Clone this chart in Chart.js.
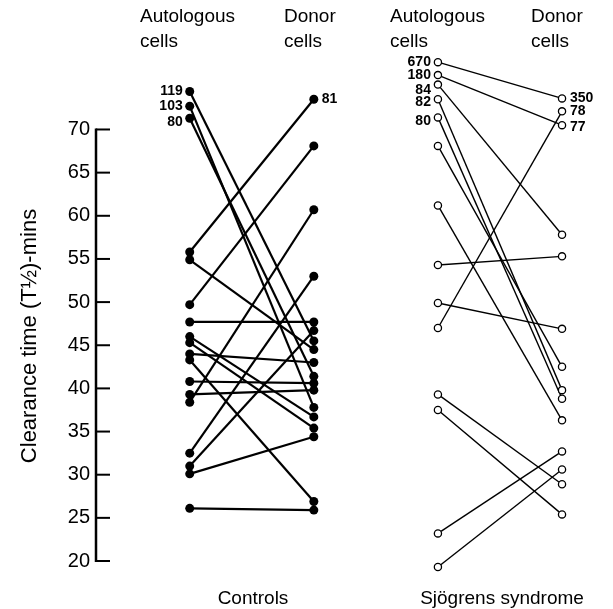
<!DOCTYPE html>
<html>
<head>
<meta charset="utf-8">
<script src="https://cdn.jsdelivr.net/npm/chart.js@4.4.1/dist/chart.umd.min.js"></script>
<style>
  html, body { margin: 0; padding: 0; background: #fff; }
  #wrap { width: 613px; height: 609px; position: relative; }
</style>
</head>
<body>
<div id="wrap"><canvas id="clearChart" width="613" height="609"></canvas></div>
<script>
// columns on the x scale
const colCtrlAuto = 1;
const colCtrlDonor = 2;
const colSjoAuto = 3;
const colSjoDonor = 4;

// y axis ticks
const yTicks = [20, 25, 30, 35, 40, 45, 50, 55, 60, 65, 70];

// controls: autologous value -> donor value, same index = same subject
const ctrlAuto  = [74.4, 72.7, 71.3, 55.8, 54.9, 49.7, 47.7, 46.0, 45.3, 44.0, 43.3, 40.8, 39.3, 38.4, 32.5, 31.0, 30.1, 26.1];
const ctrlDonor = [45.5, 37.8, 41.4, 73.5, 44.5, 68.1, 47.7, 36.7, 35.4, 43.0, 26.9, 40.6, 39.8, 60.7, 53.0, 46.7, 34.4, 25.9];
const ctrlAutoNote  = ['119', '103', '80'];
const ctrlDonorNote = ['', '', '', '81'];

// Sjogrens syndrome
const sjoAuto  = [77.8, 76.3, 75.2, 73.5, 71.4, 68.1, 61.2, 54.3, 49.9, 47.0, 39.3, 37.5, 23.2, 19.3];
const sjoDonor = [73.6, 70.5, 57.8, 39.8, 38.8, 42.5, 36.3, 55.3, 46.9, 72.1, 28.9, 25.4, 32.7, 30.6];
const sjoAutoNote  = ['670', '180', '84', '82', '80'];
const sjoDonorNote = ['350', '77', '', '', '', '', '', '', '', '78'];

const FONT = "'Liberation Sans', Arial, Helvetica, sans-serif";

const datasets = [];
ctrlAuto.forEach((v, i) => {
  datasets.push({
    group: 'ctrl', idx: i,
    data: [{ x: colCtrlAuto, y: v }, { x: colCtrlDonor, y: ctrlDonor[i] }],
    borderColor: '#000',
    borderWidth: 2.2,
    pointRadius: 4.5,
    pointBackgroundColor: '#000',
    pointBorderColor: '#000',
    pointBorderWidth: 0,
  });
});
sjoAuto.forEach((v, i) => {
  datasets.push({
    group: 'sjo', idx: i,
    data: [{ x: colSjoAuto, y: v }, { x: colSjoDonor, y: sjoDonor[i] }],
    borderColor: '#000',
    borderWidth: 1.4,
    pointRadius: 3.6,
    pointBackgroundColor: '#fff',
    pointBorderColor: '#000',
    pointBorderWidth: 1.3,
  });
});

// small vertical nudges so the stacked numbers don't collide
const noteShift = { '84': 6, '82': 3, '80': 4, '77': 2 };

const extras = {
  id: 'extras',
  beforeDatasetsDraw(chart) {
    const { ctx, chartArea, scales: { y } } = chart;
    const ax = chartArea.left;
    ctx.save();
    ctx.strokeStyle = '#000';
    ctx.lineWidth = 2.5;
    ctx.beginPath();
    ctx.moveTo(ax, y.getPixelForValue(70) - 1);
    ctx.lineTo(ax, y.getPixelForValue(20) + 1);
    ctx.stroke();
    ctx.lineWidth = 2;
    yTicks.forEach(v => {
      const py = y.getPixelForValue(v);
      ctx.beginPath();
      ctx.moveTo(ax, py);
      ctx.lineTo(ax + 14, py);
      ctx.stroke();
    });
    ctx.restore();
  },
  afterDatasetsDraw(chart) {
    const { ctx } = chart;
    ctx.save();
    ctx.fillStyle = '#000';

    // numbers beside the off-scale points
    ctx.font = 'bold 14px ' + FONT;
    ctx.textBaseline = 'middle';
    chart.data.datasets.forEach((ds, di) => {
      const pts = chart.getDatasetMeta(di).data;
      const left = ds.group === 'ctrl' ? ctrlAutoNote[ds.idx] : sjoAutoNote[ds.idx];
      const right = ds.group === 'ctrl' ? ctrlDonorNote[ds.idx] : sjoDonorNote[ds.idx];
      if (left) {
        ctx.textAlign = 'right';
        ctx.fillText(left, pts[0].x - 7, pts[0].y + (noteShift[left] || 0));
      }
      if (right) {
        ctx.textAlign = 'left';
        ctx.fillText(right, pts[1].x + 8, pts[1].y + (noteShift[right] || 0));
      }
    });

    // column headings and group names
    ctx.font = '19px ' + FONT;
    ctx.textAlign = 'left';
    ctx.textBaseline = 'alphabetic';
    [['Autologous', 'cells', 140], ['Donor', 'cells', 284], ['Autologous', 'cells', 390], ['Donor', 'cells', 531]]
      .forEach(([a, b, tx]) => {
        ctx.fillText(a, tx, 22);
        ctx.fillText(b, tx, 47);
      });
    ctx.textAlign = 'center';
    ctx.fillText('Controls', 253, 604);
    ctx.fillText('Sjögrens syndrome', 502, 604);

    // axis title
    ctx.save();
    ctx.translate(30, 336);
    ctx.rotate(-Math.PI / 2);
    ctx.font = '22px ' + FONT;
    ctx.textAlign = 'center';
    ctx.textBaseline = 'middle';
    ctx.fillText('Clearance time (T½)-mins', 0, 0);
    ctx.restore();

    ctx.restore();
  }
};

new Chart(document.getElementById('clearChart'), {
  type: 'line',
  data: { datasets },
  options: {
    responsive: false,
    animation: false,
    events: [],
    layout: { padding: { top: 55, bottom: 29, left: 0, right: 0 } },
    plugins: { legend: { display: false }, tooltip: { enabled: false } },
    scales: {
      x: {
        type: 'linear',
        display: false,
        min: 0.2448,
        max: 4.368,
      },
      y: {
        type: 'linear',
        min: 17.8,
        max: 78.63,
        afterFit: s => { s.width = 96; },
        afterBuildTicks: s => { s.ticks = yTicks.map(v => ({ value: v })); },
        grid: { display: false, drawTicks: false },
        border: { display: false },
        ticks: {
          color: '#000',
          padding: 6,
          autoSkip: false,
          font: { family: FONT, size: 20 },
        },
      },
    },
  },
  plugins: [extras],
});
</script>
</body>
</html>
